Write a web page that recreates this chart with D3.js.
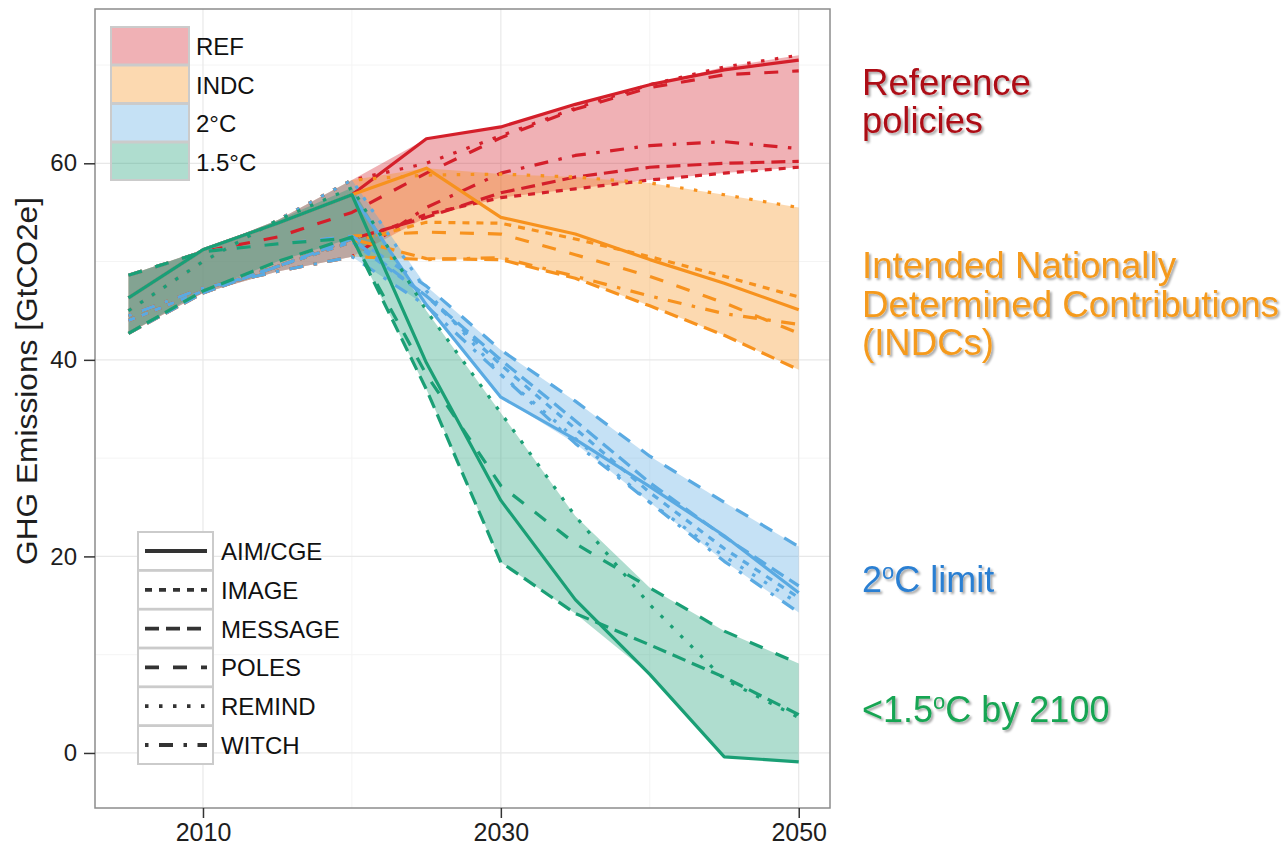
<!DOCTYPE html>
<html>
<head>
<meta charset="utf-8">
<script src="https://cdn.jsdelivr.net/npm/d3@7"></script>
<style>
  body { margin: 0; background: #fff; }
  svg { display: block; font-family: Arial, "Liberation Sans", sans-serif; }
</style>
</head>
<body>
<div id="chart"></div>
<script>
/* DATA */
const years = [2005, 2010, 2015, 2020, 2025, 2030, 2035, 2040, 2045, 2050];
const models = ["AIM/CGE", "IMAGE", "MESSAGE", "POLES", "REMIND", "WITCH"];
const scenarios = ["REF", "INDC", "2°C", "1.5°C"];

// GtCO2e per model, one small table per scenario
const refRuns = {
  "AIM/CGE": [46.3, 51.2, 53.9, 56.8, 62.5, 63.7, 66.0, 68.0, 69.5, 70.5],
  "IMAGE":   [44.0, 47.0, 49.5, 52.0, 54.8, 56.5, 57.4, 58.3, 59.0, 59.6],
  "MESSAGE": [42.7, 46.8, 49.5, 52.3, 54.5, 57.0, 58.6, 59.6, 60.0, 60.2],
  "POLES":   [48.6, 51.0, 52.5, 55.0, 59.0, 62.6, 65.5, 67.7, 69.0, 69.4],
  "REMIND":  [45.0, 50.0, 54.2, 58.3, 60.0, 62.8, 65.6, 68.0, 69.8, 71.0],
  "WITCH":   [44.5, 47.3, 49.0, 50.5, 55.5, 59.0, 60.8, 61.8, 62.2, 61.5]
};
const indcRuns = {
  "AIM/CGE": [46.3, 51.2, 53.9, 56.8, 59.5, 54.5, 52.8, 50.2, 47.8, 45.1],
  "IMAGE":   [44.0, 47.0, 49.5, 52.0, 54.0, 53.9, 52.3, 50.5, 48.5, 46.4],
  "MESSAGE": [42.7, 46.8, 49.5, 52.3, 50.3, 50.2, 48.3, 45.5, 42.5, 39.0],
  "POLES":   [48.6, 51.0, 51.8, 52.6, 53.0, 52.8, 50.7, 48.5, 45.8, 42.7],
  "REMIND":  [45.0, 50.0, 54.2, 58.3, 58.8, 58.9, 58.6, 58.0, 56.8, 55.5],
  "WITCH":   [44.5, 47.3, 49.0, 50.5, 50.2, 50.4, 48.5, 46.5, 44.7, 43.6]
};
const twoDegRuns = {
  "AIM/CGE": [46.3, 51.2, 53.9, 56.8, 45.6, 36.2, 31.9, 27.1, 22.1, 16.3],
  "IMAGE":   [44.0, 47.0, 49.5, 52.0, 46.5, 39.5, 33.0, 26.5, 20.8, 15.8],
  "MESSAGE": [42.7, 46.8, 49.5, 52.3, 46.5, 40.0, 33.8, 27.5, 22.0, 17.0],
  "POLES":   [48.6, 51.0, 51.8, 52.6, 47.5, 41.0, 35.8, 30.2, 25.5, 21.0],
  "REMIND":  [45.0, 50.0, 54.2, 58.3, 47.0, 38.5, 32.0, 25.5, 20.0, 15.2],
  "WITCH":   [44.5, 47.3, 49.0, 50.5, 45.5, 38.5, 31.5, 25.5, 19.5, 14.3]
};
const onePointFiveRuns = {
  "AIM/CGE": [46.3, 51.2, 53.9, 56.8, 39.7, 25.7, 15.6, 8.0, -0.4, -0.9],
  "MESSAGE": [42.7, 47.0, 50.0, 52.5, 37.0, 19.4, 14.2, 11.0, 7.7, 3.9],
  "POLES":   [48.6, 51.0, 51.8, 52.4, 38.5, 27.2, 21.3, 16.8, 12.4, 9.1],
  "REMIND":  [45.0, 50.0, 54.2, 57.5, 45.0, 34.6, 24.1, 15.1, 7.5, 3.6]
};

const yTicks = [0, 20, 40, 60];
const xTicks = [2010, 2030, 2050];

/* STYLES */
const lineColor = { "REF": "#d41f2a", "INDC": "#f7921e", "2°C": "#5aaae2", "1.5°C": "#1a9f75" };
const dashes = {
  "AIM/CGE": null,
  "IMAGE": "7,7",
  "MESSAGE": "14,7",
  "POLES": "14,14",
  "REMIND": "3.5,10.5",
  "WITCH": "3.5,10.5,14,10.5"
};
const fillAlpha = 0.35;

const runsByScenario = { "REF": refRuns, "INDC": indcRuns, "2°C": twoDegRuns, "1.5°C": onePointFiveRuns };

const W = 1287, H = 845;
const panel = { left: 95, right: 830, top: 9, bottom: 808 };

const svg = d3.select("#chart").append("svg")
  .attr("width", W).attr("height", H);

const defs = svg.append("defs");
defs.append("filter").attr("id", "shadow")
  .attr("x", "-5%").attr("y", "-20%").attr("width", "115%").attr("height", "150%")
  .append("feDropShadow")
  .attr("dx", 2).attr("dy", 2).attr("stdDeviation", 1.2)
  .attr("flood-color", "#000").attr("flood-opacity", 0.35);
defs.append("clipPath").attr("id", "clip").append("rect")
  .attr("x", panel.left).attr("y", panel.top)
  .attr("width", panel.right - panel.left).attr("height", panel.bottom - panel.top);

// scales (ggplot style 5% expansion)
const x = d3.scaleLinear().domain([2002.75, 2052.1]).range([panel.left, panel.right]);
const y = d3.scaleLinear().domain([-5.6, 75.7]).range([panel.bottom, panel.top]);

// grid
const grid = svg.append("g");
[2020, 2040].forEach(v => grid.append("line")
  .attr("x1", x(v)).attr("x2", x(v)).attr("y1", panel.top).attr("y2", panel.bottom)
  .attr("stroke", "#f4f4f4").attr("stroke-width", 1));
[10, 30, 50, 70].forEach(v => grid.append("line")
  .attr("y1", y(v)).attr("y2", y(v)).attr("x1", panel.left).attr("x2", panel.right)
  .attr("stroke", "#f4f4f4").attr("stroke-width", 1));
xTicks.forEach(v => grid.append("line")
  .attr("x1", x(v)).attr("x2", x(v)).attr("y1", panel.top).attr("y2", panel.bottom)
  .attr("stroke", "#e8e8e8").attr("stroke-width", 1.2));
yTicks.forEach(v => grid.append("line")
  .attr("y1", y(v)).attr("y2", y(v)).attr("x1", panel.left).attr("x2", panel.right)
  .attr("stroke", "#e8e8e8").attr("stroke-width", 1.2));

// ribbons (min-max across models)
const area = d3.area()
  .x(d => x(d.year)).y0(d => y(d.lo)).y1(d => y(d.hi));
const plot = svg.append("g").attr("clip-path", "url(#clip)");

scenarios.forEach(s => {
  const runs = Object.values(runsByScenario[s]);
  const band = years.map((yr, i) => ({
    year: yr,
    lo: d3.min(runs, r => r[i]),
    hi: d3.max(runs, r => r[i])
  }));
  plot.append("path").datum(band)
    .attr("d", area)
    .attr("fill", lineColor[s]).attr("fill-opacity", fillAlpha);
});

// model lines
const line = d3.line().x(d => x(d.year)).y(d => y(d.v));
scenarios.forEach(s => {
  Object.entries(runsByScenario[s]).forEach(([m, vals]) => {
    plot.append("path")
      .datum(years.map((yr, i) => ({ year: yr, v: vals[i] })))
      .attr("d", line)
      .attr("fill", "none")
      .attr("stroke", lineColor[s])
      .attr("stroke-width", 3.2)
      .attr("stroke-dasharray", dashes[m])
      .attr("stroke-linejoin", "round");
  });
});

// panel border
svg.append("rect")
  .attr("x", panel.left).attr("y", panel.top)
  .attr("width", panel.right - panel.left).attr("height", panel.bottom - panel.top)
  .attr("fill", "none").attr("stroke", "#8c8c8c").attr("stroke-width", 1.5);

// axes
const xAxis = svg.append("g")
  .attr("transform", `translate(0,${panel.bottom})`)
  .call(d3.axisBottom(x).tickValues(xTicks).tickFormat(d3.format("d")).tickSize(10).tickPadding(5));
const yAxis = svg.append("g")
  .attr("transform", `translate(${panel.left},0)`)
  .call(d3.axisLeft(y).tickValues(yTicks).tickSize(11).tickPadding(7));
[xAxis, yAxis].forEach(a => {
  a.attr("font-family", null).attr("font-size", null);
  a.select(".domain").remove();
  a.selectAll(".tick line").attr("stroke", "#333").attr("stroke-width", 1.5);
  a.selectAll("text").attr("fill", "#1e1e1e");
});
xAxis.selectAll("text").style("font-size", "25px");
yAxis.selectAll("text").style("font-size", "24px");

svg.append("text")
  .attr("transform", `translate(37,381) rotate(-90)`)
  .attr("text-anchor", "middle")
  .style("font-size", "30px")
  .attr("textLength", 368).attr("lengthAdjust", "spacingAndGlyphs")
  .attr("fill", "#1e1e1e")
  .text("GHG Emissions [GtCO2e]");

// fill legend
const fillLeg = svg.append("g").attr("transform", "translate(111,27)");
scenarios.forEach((s, i) => {
  const g = fillLeg.append("g").attr("transform", `translate(0,${i * 38.5})`);
  g.append("rect").attr("width", 78).attr("height", 37.5)
    .attr("fill", lineColor[s]).attr("fill-opacity", fillAlpha)
    .attr("stroke", "#cbcbcb").attr("stroke-width", 2);
  g.append("text").attr("x", 85).attr("y", 28)
    .style("font-size", "24px").attr("fill", "#111").text(s);
});

// linetype legend
const lineLeg = svg.append("g").attr("transform", "translate(138,532)");
models.forEach((m, i) => {
  const g = lineLeg.append("g").attr("transform", `translate(0,${i * 38.8})`);
  g.append("rect").attr("width", 75).attr("height", 38)
    .attr("fill", "#fff").attr("stroke", "#cbcbcb").attr("stroke-width", 2);
  g.append("line").attr("x1", 7).attr("x2", 69).attr("y1", 19).attr("y2", 19)
    .attr("stroke", "#333").attr("stroke-width", 3.8)
    .attr("stroke-dasharray", dashes[m]);
  g.append("text").attr("x", 83).attr("y", 28)
    .style("font-size", "24px").attr("fill", "#111").text(m);
});

// right-hand annotations
const notes = svg.append("g").attr("filter", "url(#shadow)").style("font-size", "36px");
const refNote = [["Reference", 95, 169], ["policies", 133, 121]];
refNote.forEach(([t, yy, len]) => notes.append("text")
  .attr("x", 862).attr("y", yy).attr("fill", "#ad0f18")
  .attr("textLength", len).attr("lengthAdjust", "spacingAndGlyphs").text(t));
const indcNote = [["Intended Nationally", 278, 314], ["Determined Contributions", 317, 417], ["(INDCs)", 355, 132]];
indcNote.forEach(([t, yy, len]) => notes.append("text")
  .attr("x", 862).attr("y", yy).attr("fill", "#f59a1c")
  .attr("textLength", len).attr("lengthAdjust", "spacingAndGlyphs").text(t));

const twoNote = notes.append("text").attr("x", 862).attr("y", 592).attr("fill", "#2a7fd2");
twoNote.append("tspan").text("2");
twoNote.append("tspan").attr("dy", -13).style("font-size", "22px").text("o");
twoNote.append("tspan").attr("dy", 13).text("C limit");

const onePfNote = notes.append("text").attr("x", 862).attr("y", 722).attr("fill", "#19a552");
onePfNote.append("tspan").text("<1.5");
onePfNote.append("tspan").attr("dy", -13).style("font-size", "22px").text("o");
onePfNote.append("tspan").attr("dy", 13).text("C by 2100");
</script>
</body>
</html>
